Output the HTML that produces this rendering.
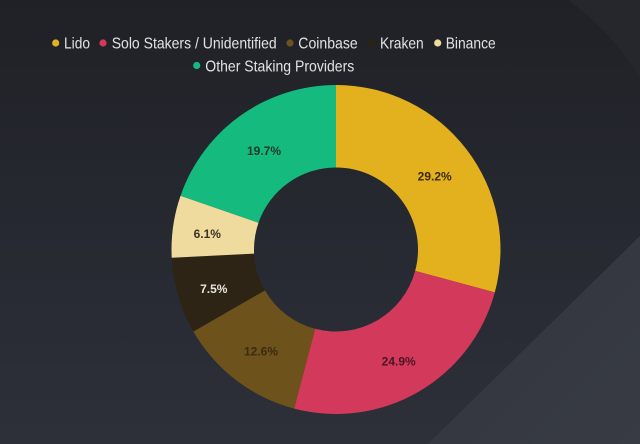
<!DOCTYPE html>
<html>
<head>
<meta charset="utf-8">
<style>
  html, body { margin:0; padding:0; width:640px; height:444px; overflow:hidden; background:#262830; }
  svg { display:block; }
</style>
</head>
<body>
<svg width="640" height="444" viewBox="0 0 640 444" xmlns="http://www.w3.org/2000/svg">
  <defs>
    <linearGradient id="bg" x1="0" y1="0" x2="0" y2="1">
      <stop offset="0" stop-color="#1f2126"/>
      <stop offset="0.45" stop-color="#262830"/>
      <stop offset="1" stop-color="#2d3039"/>
    </linearGradient>
    <linearGradient id="br" x1="0" y1="0" x2="1" y2="1">
      <stop offset="0" stop-color="#32353d"/>
      <stop offset="1" stop-color="#383b43"/>
    </linearGradient>
  </defs>
  <rect x="0" y="0" width="640" height="444" fill="url(#bg)"/>
  <!-- top-right lighter area -->
  <path d="M568,0 Q610,30 640,78 L640,0 Z" fill="#25272d"/>
  <!-- bottom-right lighter diagonal area -->
  <path d="M640,236 L428,444 L640,444 Z" fill="url(#br)"/>

  <!-- Legend -->
  <g font-family="'Liberation Sans', Arial, sans-serif" font-size="16" fill="#e2e2e2">
    <circle cx="55.7" cy="43" r="3.6" fill="#e3b11f"/>
    <text x="64" y="48.5" textLength="26" lengthAdjust="spacingAndGlyphs">Lido</text>
    <circle cx="103" cy="43" r="3.6" fill="#d2395a"/>
    <text x="111.7" y="48.5" textLength="165" lengthAdjust="spacingAndGlyphs">Solo Stakers / Unidentified</text>
    <circle cx="290" cy="43" r="3.6" fill="#6b531c"/>
    <text x="298.3" y="48.5" textLength="59.4" lengthAdjust="spacingAndGlyphs">Coinbase</text>
    <circle cx="372" cy="43" r="3.6" fill="#2b2216"/>
    <text x="380" y="48.5" textLength="43.7" lengthAdjust="spacingAndGlyphs">Kraken</text>
    <circle cx="437.7" cy="43" r="3.6" fill="#efdb9d"/>
    <text x="445.7" y="48.5" textLength="50" lengthAdjust="spacingAndGlyphs">Binance</text>
    <circle cx="196.7" cy="65.5" r="3.6" fill="#14ba7f"/>
    <text x="205.3" y="71.5" textLength="149" lengthAdjust="spacingAndGlyphs">Other Staking Providers</text>
  </g>

  <!-- Donut -->
  <g>
    <path d="M336,85 A164.5,164.5 0 0 1 494.80,292.41 L415.16,270.89 A82,82 0 0 0 336,167.5 Z" fill="#e4b11e"/>
    <path d="M494.80,292.41 A164.5,164.5 0 0 1 294.09,408.57 L315.11,328.79 A82,82 0 0 0 415.16,270.89 Z" fill="#d3395a"/>
    <path d="M294.09,408.57 A164.5,164.5 0 0 1 193.37,331.45 L264.90,290.35 A82,82 0 0 0 315.11,328.79 Z" fill="#6d531b"/>
    <path d="M193.37,331.45 A164.5,164.5 0 0 1 171.71,257.76 L254.10,253.62 A82,82 0 0 0 264.90,290.35 Z" fill="#2e2416"/>
    <path d="M171.71,257.76 A164.5,164.5 0 0 1 180.54,195.73 L258.50,222.69 A82,82 0 0 0 254.10,253.62 Z" fill="#eedb9d"/>
    <path d="M180.54,195.73 A164.5,164.5 0 0 1 336,85 L336,167.5 A82,82 0 0 0 258.50,222.69 Z" fill="#15ba7f"/>
  </g>

  <!-- Slice labels -->
  <g font-family="'Liberation Sans', Arial, sans-serif" font-size="12" font-weight="bold" text-anchor="middle">
    <text x="264" y="155" fill="#1c3a2a">19.7%</text>
    <text x="434.7" y="180.5" fill="#3b2a08">29.2%</text>
    <text x="398.7" y="365.5" fill="#4a1626">24.9%</text>
    <text x="261" y="355.3" fill="#3a2b10">12.6%</text>
    <text x="207.3" y="238.2" fill="#3c3322">6.1%</text>
    <text x="213.8" y="293.2" fill="#e8e4dc">7.5%</text>
  </g>
</svg>
</body>
</html>
